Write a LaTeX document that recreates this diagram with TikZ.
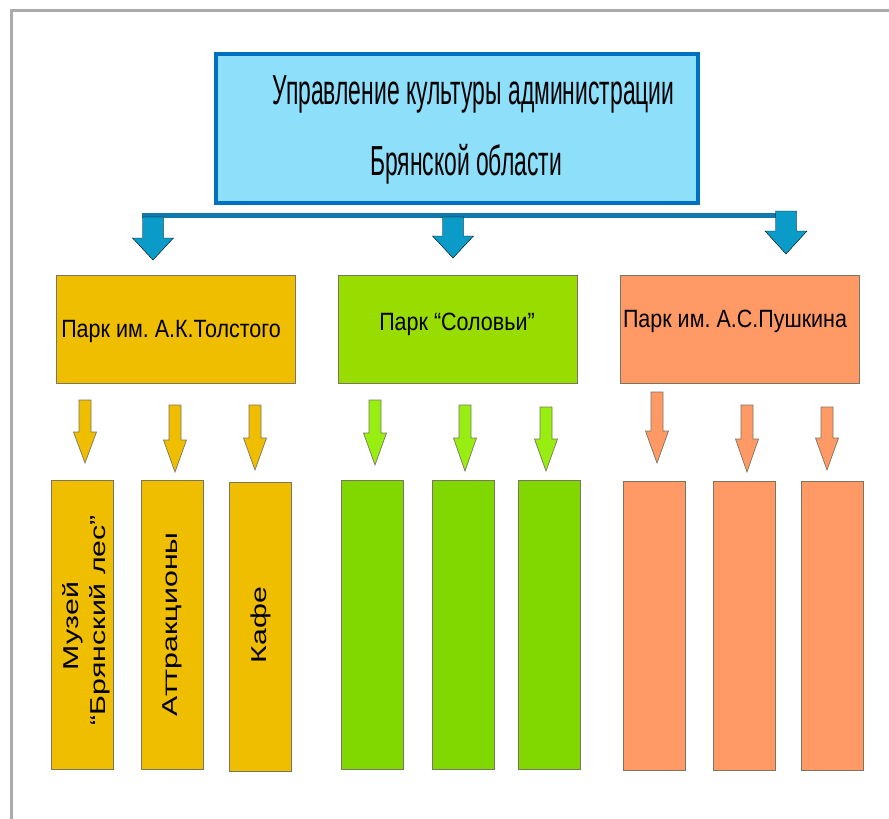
\documentclass[tikz,border=0pt]{standalone}
\usepackage{fontspec}
\setmainfont{Liberation Sans}
\newfontfamily\headfont[FakeStretch=0.545]{Liberation Sans}
\newfontfamily\parkfont[FakeStretch=0.86]{Liberation Sans}
\newfontfamily\itemfont[FakeStretch=1.41]{Liberation Sans}
\usepackage{tikz}
\frenchspacing

\definecolor{headfill}{HTML}{8EDFFA}
\definecolor{headline}{HTML}{0070C0}
\definecolor{barblue}{HTML}{1279AE}
\definecolor{arrowblue}{HTML}{0A9BC9}
\definecolor{tolfill}{HTML}{F0BE00}
\definecolor{solfill}{HTML}{99DD00}
\definecolor{solarrow}{HTML}{99EE11}
\definecolor{solitem}{HTML}{80D800}
\definecolor{pushfill}{HTML}{FF9966}
\definecolor{edge}{HTML}{7A7560}
\definecolor{framegray}{HTML}{ABABAB}

% block arrow pointing down: [style]{x}{top}{tip}{shaft width}{head width}{head length}
\newcommand{\blockarrow}[7][]{%
  \draw [#1] ({#2-#5/2},{-#3}) -- ({#2+#5/2},{-#3}) -- ({#2+#5/2},{-#4+#7})
    -- ({#2+#6/2},{-#4+#7}) -- (#2,{-#4}) -- ({#2-#6/2},{-#4+#7})
    -- ({#2-#5/2},{-#4+#7}) -- cycle;}

\begin{document}
\begin{tikzpicture}[x=1pt,y=1pt]
\tikzstyle{every node}+=[inner sep=0pt]
\tikzstyle{parkbox}=[draw=edge, line width=0.8pt, minimum width=239, minimum height=108]
\tikzstyle{itembox}=[draw=edge, line width=0.8pt, minimum width=62, minimum height=289]
\tikzstyle{headlabel}=[anchor=base, font=\headfont\fontsize{42}{44}\selectfont]
\tikzstyle{parklabel}=[anchor=base, font=\parkfont\fontsize{25}{28}\selectfont]
\tikzstyle{itemlabel}=[anchor=base, rotate=90, font=\itemfont\fontsize{21.5}{24}\selectfont]
\tikzstyle{bigarrow}=[fill=arrowblue]
\tikzstyle{smallarrow}=[draw=edge, line width=0.7pt]
\useasboundingbox (0,0) rectangle (889,-819);
\draw [framegray, line width=3pt] (11,-819) -- (11,-10) -- (889,-10);
% head office
\node [draw=headline, line width=4pt, fill=headfill, minimum width=482, minimum height=149] (office) at (457,-128.5) {};
\node [headlabel] (office-a) at (473.5,-104) {Управление культуры администрации};
\node [headlabel] (office-b) at (466,-175) {Брянской области};
\fill [barblue] (142,-213) rectangle (776,-218);
\blockarrow[bigarrow]{153}{217}{260}{21}{41}{22}
\blockarrow[bigarrow]{453}{217}{258}{21}{41}{22}
\blockarrow[bigarrow]{786}{211}{254}{21}{42}{23}
% parks
\node [parkbox, fill=tolfill] (tolstoy) at (175.5,-329) {};
\node [parklabel] (tolstoy-t) at (171,-337) {Парк им. А.К.Толстого};
\node [parkbox, fill=solfill] (solov) at (457.5,-329) {};
\node [parklabel] (solov-t) at (457,-330) {Парк “Соловьи”};
\node [parkbox, fill=pushfill] (pushkin) at (739.5,-329) {};
\node [parklabel] (pushkin-t) at (735,-327) {Парк им. А.С.Пушкина};
\blockarrow[smallarrow, fill=tolfill]{85}{400}{463}{12}{23}{31}
\blockarrow[smallarrow, fill=tolfill]{175}{405}{472}{12}{23}{32}
\blockarrow[smallarrow, fill=tolfill]{255}{405}{470}{12}{23}{32}
\blockarrow[smallarrow, fill=solarrow]{375}{400}{465}{12}{23}{32}
\blockarrow[smallarrow, fill=solarrow]{465}{405}{471}{12}{23}{33}
\blockarrow[smallarrow, fill=solarrow]{546}{407}{471}{12}{23}{32}
\blockarrow[smallarrow, fill=pushfill]{657}{392}{463}{12}{23}{32}
\blockarrow[smallarrow, fill=pushfill]{747}{405}{472}{12}{23}{33}
\blockarrow[smallarrow, fill=pushfill]{827}{407}{470}{12}{23}{32}
% park objects
\node [itembox, fill=tolfill] (museum) at (82.5,-625) {};
\node [itembox, fill=tolfill] (rides) at (172.5,-625) {};
\node [itembox, fill=tolfill] (cafe) at (260,-627) {};
\node [itemlabel] (museum-a) at (78,-626) {Музей};
\node [itemlabel] (museum-b) at (105,-620) {“Брянский лес”};
\node [itemlabel] (rides-t) at (177,-624.5) {Аттракционы};
\node [itemlabel] (cafe-t) at (266,-625) {Кафе};
\node [itembox, fill=solitem] (sol-a) at (372.5,-625) {};
\node [itembox, fill=solitem] (sol-b) at (463,-625) {};
\node [itembox, fill=solitem] (sol-c) at (549,-625) {};
\node [itembox, fill=pushfill] (push-a) at (654.5,-625.5) {};
\node [itembox, fill=pushfill] (push-b) at (744,-625.5) {};
\node [itembox, fill=pushfill] (push-c) at (832,-625.5) {};
\end{tikzpicture}
\end{document}
